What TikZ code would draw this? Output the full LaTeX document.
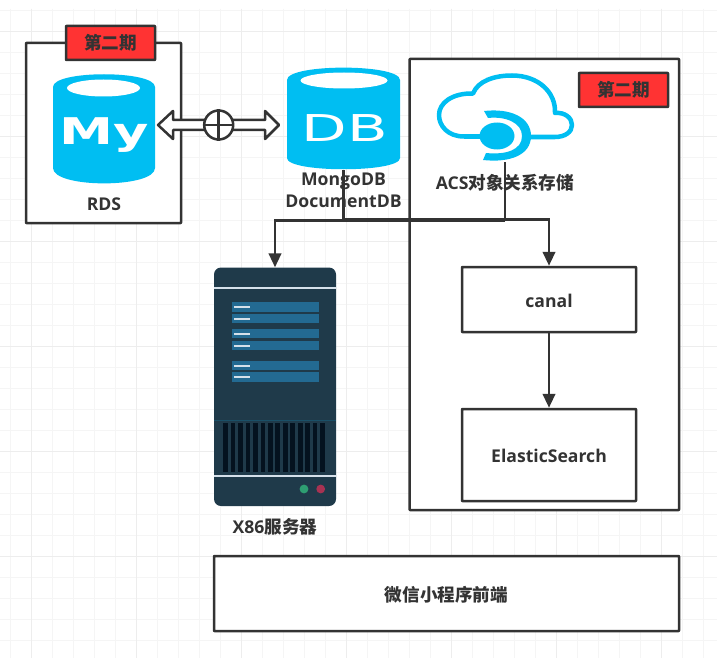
\documentclass[tikz,border=0pt]{standalone}
\usepackage{fontspec}
\setmainfont{Open Sans}
\newfontfamily\cjkfont{Noto Sans CJK SC}
\newfontfamily\iconfont{DejaVu Sans}
\usetikzlibrary{arrows.meta}
\definecolor{ink}{HTML}{333333}
\definecolor{sky}{HTML}{00BEF2}
\definecolor{tagred}{HTML}{FF3333}
\definecolor{srvbody}{HTML}{1F3A4A}
\definecolor{srvbar}{HTML}{236A92}
\definecolor{srvline}{HTML}{D5E0EA}
\definecolor{srvvent}{HTML}{04121F}
\definecolor{srvrule}{HTML}{1A5068}
\definecolor{dotg}{HTML}{2E9E72}
\definecolor{dotr}{HTML}{A83252}
\definecolor{gridminor}{HTML}{F5F5F5}
\definecolor{gridmajor}{HTML}{EDEDED}
\tikzset{
  panel/.style={draw=ink,line width=2.5pt,fill=white,line join=round,rounded corners=0.5pt,inner sep=0pt},
  tag/.style={panel,fill=tagred,minimum width=89pt,minimum height=34pt,text=ink,font=\fontsize{17.6}{19}\selectfont\cjkfont\bfseries},
  lbl/.style={text=ink,font=\fontsize{17.6}{21.5}\selectfont\bfseries,inner sep=0pt,align=center},
  conn/.style={draw=ink,line width=2.5pt},
  arrowed/.style={conn,-{Triangle[length=14pt,width=12.5pt]}},
  icon/.style={inner sep=0pt,minimum width=#1}
}
\begin{document}
\begin{tikzpicture}[x=1pt,y=-1pt]
\useasboundingbox (0,0) rectangle (717,658);
\fill[white] (0,0) rectangle (717,658);
% grid
\foreach \k in {0,...,33}{\draw[gridminor,line width=1pt] ({10.7+21*\k},9) -- ({10.7+21*\k},658);}
\foreach \k in {0,...,30}{\draw[gridminor,line width=1pt] (0,{10.5+21*\k}) -- (717,{10.5+21*\k});}
\foreach \k in {0,...,6}{\draw[gridmajor,line width=1.2pt] ({31.7+105*\k},9) -- ({31.7+105*\k},658);}
\foreach \k in {0,...,6}{\draw[gridmajor,line width=1.2pt] (0,{31.5+105*\k}) -- (717,{31.5+105*\k});}

% panels
\node[panel,minimum width=155pt,minimum height=180pt] (rdsbox) at (103.5,133) {};
\node[panel,minimum width=269.5pt,minimum height=451pt] (acsbox) at (544.3,284.5) {};
\node[panel,minimum width=465pt,minimum height=75pt] (mini) at (446.5,593.5) {};
\node[lbl] (minilbl) at (446.5,594.5) {\cjkfont\bfseries 微信小程序前端};
\node[tag] (tag1) at (110.5,43) {第二期};
\node[tag] (tag2) at (623.5,90) {第二期};

% anchors for icons
\node[icon=102pt,minimum height=110pt] (my) at (104,129) {};
\node[icon=113pt,minimum height=103pt] (db) at (343.5,118.5) {};
\node[icon=136pt,minimum height=88pt] (acs) at (505,118) {};
\node[icon=122pt,minimum height=239pt] (srv) at (275,387) {};
\node[panel,minimum width=174pt,minimum height=65pt] (canal) at (549,299.5) {};
\node[panel,minimum width=174pt,minimum height=92pt] (es) at (549,455) {};
\coordinate (joinm) at (db.south |- 0,219.5);
\coordinate (joina) at (acs.south |- 0,220.5);
\coordinate (bendx) at (srv.north |- 0,220.5);
\coordinate (bendc) at (canal.north |- 0,219.5);

% connectors
\draw[conn] (db.south) -- (joinm);
\draw[arrowed] (joinm) -- (bendc) -- (canal.north);
\draw[conn] (acs.south) -- (joina);
\draw[arrowed] (joina) -- (bendx) -- (srv.north);
\draw[arrowed] (canal.south) -- (es.north);

% MySQL cylinder
\fill[sky] (53,87) .. controls (53,70) and (155,70) .. (155,87) -- (155,168)
  .. controls (155,188.5) and (53,188.5) .. (53,168) -- cycle;
\fill[white] (103.5,88) ellipse [x radius=36.5,y radius=8.5];
\node[text=white,inner sep=0pt,anchor=base] (mytxt) at (104.5,145) {\scalebox{1.18}[0.8]{\iconfont\bfseries\fontsize{46}{46}\selectfont My}};

% DB cylinder
\fill[sky] (287,80) .. controls (287,63.5) and (400,63.5) .. (400,80) -- (400,158)
  .. controls (400,173) and (287,173) .. (287,158) -- cycle;
\fill[white] (344,80.5) ellipse [x radius=43.5,y radius=8];
\node[text=white,inner sep=0pt,anchor=base] (dbtxt) at (345,141) {\scalebox{1.6}[1]{\iconfont\fontsize{37}{37}\selectfont DB}};

% Double arrow and circle
\filldraw[draw=ink,fill=white,line width=2.5pt,line join=round] (158,125) -- (173,111) -- (173,120) -- (265,120) -- (265,111) -- (279,125) -- (265,139) -- (265,130) -- (173,130) -- (173,139) -- cycle;
\node[circle,draw=ink,fill=white,line width=2.5pt,minimum size=29pt,inner sep=0pt] (valve) at (218.7,125) {};
\draw[ink,line width=2.5pt] (valve.north) -- (valve.south) (valve.west) -- (valve.east);

% Cloud
\draw[sky,line width=4.5pt,line join=round] (482,136.5) -- (464,136.5)
  .. controls (448,136.5) and (439,126) .. (439,115)
  .. controls (439,103) and (452,93) .. (473,93.5)
  .. controls (478,81) and (494,75.5) .. (512,75.5)
  .. controls (538,75.5) and (556,92) .. (555,113)
  .. controls (565,112) and (572,118) .. (572,125)
  .. controls (572,132) and (565,137) .. (555,137) -- (528,137);
\fill[sky] (484,111) .. controls (510,108) and (531,117) .. (531,136)
  .. controls (531,155) and (510,163) .. (483,160)
  -- (486,153) .. controls (506,155) and (522,150) .. (522,136)
  .. controls (522,123) and (506,116) .. (488,118) -- cycle;
\fill[sky] (497,136) ellipse [x radius=17.5,y radius=13.5];

% Server
\fill[srvbody,rounded corners=7pt] (214,267.5) rectangle (336,506);
\fill[srvline] (214,287) rectangle (336,289.3);
\fill[srvline] (214,474.7) rectangle (336,477);
\fill[srvrule] (214,419.8) rectangle (336,420.8);
\foreach \a/\b in {302.3/312,314.3/323.3,329/338.3,341/350.3,361/370.3,372.3/381.7}{
  \fill[srvbar] (232,\a) rectangle (318.7,\b);
  \fill[srvline] (234,{(\a+\b)/2-1}) rectangle (250,{(\a+\b)/2+1});
}
\foreach \k in {0,...,13}{\fill[srvvent] ({223.3+7.45*\k},423.3) rectangle ({228+7.45*\k},472.3);}
\fill[dotg] (304,489) circle (4.4);
\fill[dotr] (320.7,489) circle (4.4);

% Labels
\node[lbl] (rdslbl) at (104,204.5) {RDS};
\node[lbl] (dblbl) at (343.5,190.5) {MongoDB\\DocumentDB};
\node[lbl] (acslbl) at (505,183) {ACS{\cjkfont\bfseries 对象关系存储}};
\node[lbl] (srvlbl) at (275,527) {X86{\cjkfont\bfseries 服务器}};
\node[lbl] (canallbl) at (549,300.5) {canal};
\node[lbl] (eslbl) at (549,455.5) {ElasticSearch};
\end{tikzpicture}
\end{document}
